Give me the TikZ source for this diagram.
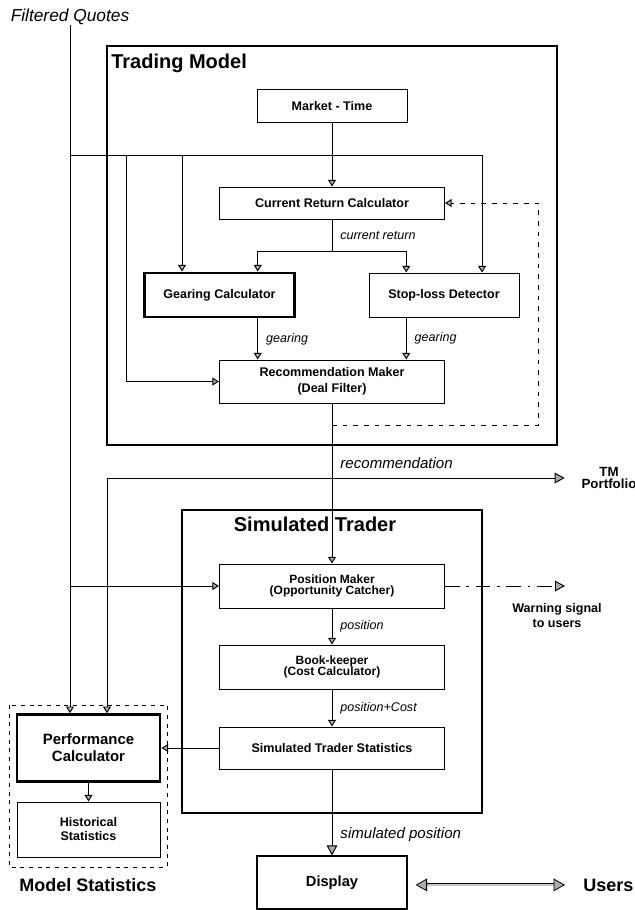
\documentclass[tikz,border=0pt]{standalone}
\usepackage{fontspec}
\setmainfont{Liberation Sans}
\usetikzlibrary{arrows.meta,calc}
\tikzset{box/.style={draw,line width=.75pt,align=center,inner sep=1pt,font=\fontsize{9.4}{11.8}\selectfont\bfseries},
colbox/.style={box,minimum width=168.75pt},
smlbox/.style={box,minimum width=112.5pt},
tight/.style={font=\fontsize{9}{8.4}\selectfont\bfseries},
heavy/.style={line width=2.2pt},
lbl/.style={font=\fontsize{9.4}{11}\selectfont\itshape,inner sep=0pt,anchor=west,xshift=6pt},
wlbl/.style={font=\fontsize{11.3}{13}\selectfont\itshape,inner sep=0pt,anchor=west,xshift=6pt},
ttl/.style={font=\fontsize{15}{18}\selectfont\bfseries,inner sep=0pt},
arr/.style={line width=.7pt,-{Triangle[fill=gray!65,length=5pt,width=6pt]}},
bigarr/.style={line width=.7pt,-{Triangle[fill=gray!65,length=7.5pt,width=8pt]}},
dblarr/.style={line width=.6pt,double=gray!45,double distance=1.1pt,{Triangle[fill=gray!65,length=8.5pt,width=9.5pt]}-{Triangle[fill=gray!65,length=8.5pt,width=9.5pt]}},
boxframe/.style={line width=1.5pt}}
\begin{document}
\begin{tikzpicture}[x=0.75pt,y=-0.75pt]
\useasboundingbox (0,0) rectangle (635,910);
% containers
\draw[boxframe] (107,46) rectangle (557,445);
\draw[boxframe] (182,510) rectangle (482,813);
\draw[line width=.75pt,dash pattern=on 3pt off 3.5pt] (9,705) rectangle (167,867);
\node[ttl,anchor=base west] (tmt) at (111,68) {Trading Model};
\node[ttl,anchor=base] (stt) at (315,531) {Simulated Trader};
\node[font=\fontsize{13.5}{16}\selectfont\bfseries,inner sep=0pt,anchor=base] (mst) at (88,891) {Model Statistics};
% boxes
\node[font=\fontsize{13}{15}\selectfont\itshape,inner sep=0pt] (fq) at (70,17) {Filtered Quotes};
\node[smlbox,minimum height=24.75pt] (mt) at (332,106) {Market - Time};
\node[colbox,minimum height=24pt] (crc) at (332,203) {Current Return Calculator};
\node[smlbox,heavy,minimum height=33pt] (gear) at (219.5,295) {Gearing Calculator};
\node[smlbox,minimum height=33pt] (stop) at (444,295) {Stop-loss Detector};
\node[colbox,minimum height=32.25pt] (rec) at (332,381.5) {Recommendation Maker\\(Deal Filter)};
\node[colbox,tight,minimum height=33pt] (pos) at (332,586) {Position Maker\\(Opportunity Catcher)};
\node[colbox,tight,minimum height=33pt] (book) at (332,667) {Book-keeper\\(Cost Calculator)};
\node[colbox,minimum height=31.5pt] (sts) at (332,748) {Simulated Trader Statistics};
\node[box,heavy,minimum width=107.25pt,minimum height=50pt,font=\fontsize{11.2}{12.8}\selectfont\bfseries] (perf) at (88.5,748) {Performance\\Calculator};
\node[box,minimum width=107.25pt,minimum height=41.25pt,font=\fontsize{9.4}{10.5}\selectfont\bfseries] (hist) at (88.5,829.5) {Historical\\Statistics};
\node[smlbox,line width=1pt,minimum height=39.75pt,font=\fontsize{11}{13}\selectfont\bfseries] (disp) at (332,882.5) {Display};
\node[font=\fontsize{10}{9.2}\selectfont\bfseries,align=center,inner sep=0pt] (tmp) at (609,478) {TM\\Portfolio};
\node[font=\fontsize{9.4}{11.3}\selectfont\bfseries,align=center,inner sep=0pt,anchor=north] (warn) at (557,603) {Warning signal\\to users};
\node[font=\fontsize{13.5}{16}\selectfont\bfseries,inner sep=0pt,anchor=base west] (usr) at (583,891) {Users};
% junctions
\coordinate (q0) at (70,155);
\coordinate (qd) at (126,155);
\coordinate (qg) at (182,155);
\coordinate (qs) at (482,155);
\coordinate (qp) at (70,586);
\coordinate (cr) at (332,251);
\coordinate (fb0) at (332,425);
\coordinate (fb1) at (538,425);
\coordinate (rj) at (332,478);
\coordinate (wr) at (565,586);
\coordinate (g1) at ($(gear.south)!.5!(gear.south east)$);
\coordinate (s1) at ($(stop.south west)!.5!(stop.south)$);
% quotes
\draw[arr] (fq.south) -- (fq.south |- perf.north);
\draw (q0) -- (qs);
\draw[arr] (qs) -- (qs |- stop.north);
\draw[arr] (qg) -- (qg |- gear.north);
\draw[arr] (qd) |- (rec.west);
\draw[arr] (qp) -- (pos.west);
% trading model
\draw[arr] (mt) -- (crc);
\draw (crc) -- (cr) node[lbl,midway]{current return};
\draw[arr] (cr) -| ($(gear.north)!.5!(gear.north east)$);
\draw[arr] (cr) -| ($(stop.north west)!.5!(stop.north)$);
\draw[arr] (g1) -- (g1 |- rec.north) node[lbl,midway]{gearing};
\draw[arr] (s1) -- (s1 |- rec.north) node[lbl,midway]{gearing};
\draw[arr,dash pattern=on 3.5pt off 4.5pt] (fb0) -- (fb1) |- (crc.east);
% recommendation
\draw[arr] (rec) -- (pos) node[wlbl,pos=.37]{recommendation};
\draw[bigarr,shorten >=12.5pt] (rj) -- (tmp.west);
\draw[arr] (rj) -| ($(perf.north)+(18.5,0)$);
% simulated trader
\draw[bigarr,dash pattern=on 11pt off 5pt on 2pt off 5pt] (pos.east) -- (wr);
\draw[arr] (pos) -- (book) node[lbl,midway]{position};
\draw[arr] (book) -- (sts) node[lbl,midway]{position+Cost};
\draw[arr] (sts) -- (perf);
\draw[arr] (perf) -- (hist);
\draw[bigarr] (sts) -- (disp) node[wlbl,pos=.76]{simulated position};
\draw[dblarr,shorten <=6pt,shorten >=13.5pt] (usr.west -| disp.east) -- (usr.west);
\end{tikzpicture}
\end{document}
